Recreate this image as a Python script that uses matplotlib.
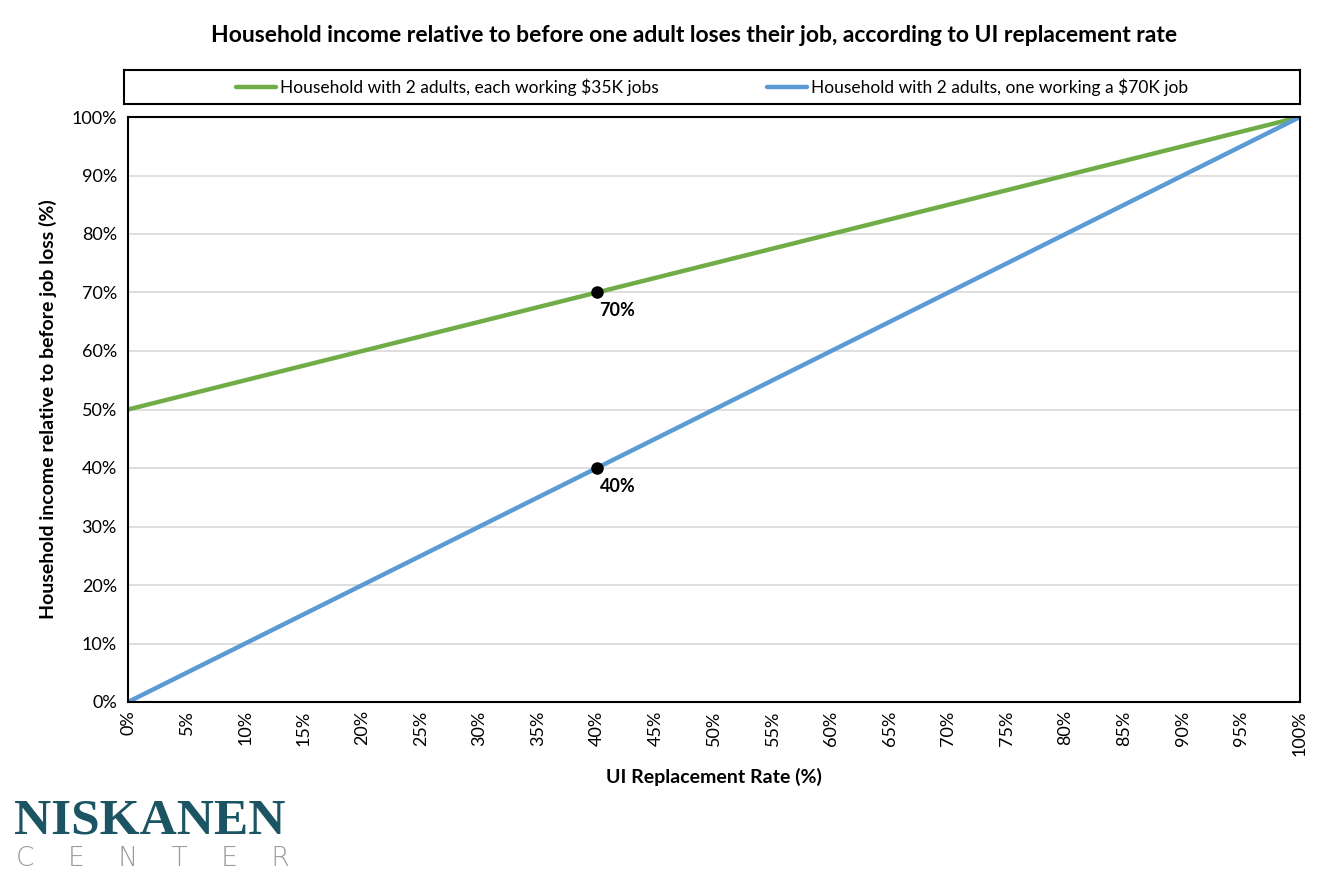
import numpy as np
import matplotlib
matplotlib.use("Agg")
from matplotlib import pyplot as plt
from matplotlib.ticker import PercentFormatter

plt.rcParams['font.family'] = ['Lato', 'DejaVu Sans']

# UI replacement rate (%)
rate = [0, 5, 10, 15, 20, 25, 30, 35, 40, 45, 50, 55, 60, 65, 70, 75, 80, 85, 90, 95, 100]
# household income relative to before job loss (%)
two_35k = [50, 52.5, 55, 57.5, 60, 62.5, 65, 67.5, 70, 72.5, 75, 77.5, 80, 82.5, 85, 87.5, 90, 92.5, 95, 97.5, 100]
one_70k = [0, 5, 10, 15, 20, 25, 30, 35, 40, 45, 50, 55, 60, 65, 70, 75, 80, 85, 90, 95, 100]
label_35k = 'Household with 2 adults, each working $35K jobs'
label_70k = 'Household with 2 adults, one working a $70K job'
marked_rate = 40
marked_vals = [70, 40]

green = '#70AD47'
blue = '#5B9BD5'

fig = plt.figure(figsize=(13.24, 8.86), dpi=100)
ax = fig.add_axes([128/1324, 1-702/886, (1300-128)/1324, (702-117)/886])

l1, = ax.plot(rate, two_35k, color=green, lw=3.2, label=label_35k, solid_capstyle='round')
l2, = ax.plot(rate, one_70k, color=blue, lw=3.2, label=label_70k, solid_capstyle='round')

for v in marked_vals:
    ax.plot(marked_rate, v, 'o', color='black', ms=8, zorder=5)
    ax.annotate('%d%%' % v, (marked_rate, v), xytext=(2, -7), textcoords='offset points',
                ha='left', va='top', fontsize=13, fontweight='bold')

ax.set_xlim(0, 100)
ax.set_ylim(0, 100)
ax.set_xticks(range(0, 101, 5))
ax.set_yticks(range(0, 101, 10))
ax.xaxis.set_major_formatter(PercentFormatter(decimals=0))
ax.yaxis.set_major_formatter(PercentFormatter(decimals=0))
ax.tick_params(axis='x', labelrotation=90, length=0, labelsize=13, pad=6)
ax.tick_params(axis='y', length=0, labelsize=13, pad=8)
ax.grid(axis='y', color='#D9D9D9', lw=1.2)
ax.set_axisbelow(True)
for s in ax.spines.values():
    s.set_linewidth(1.5)
ax.set_xlabel('UI Replacement Rate (%)', fontsize=14, fontweight='bold', labelpad=9)
ax.set_ylabel('Household income relative to before job loss (%)', fontsize=14, fontweight='bold', labelpad=10)

# legend box as its own framed axes
lax = fig.add_axes([124/1324, 1-104/886, (1300-124)/1324, 34/886])
lax.set_xticks([])
lax.set_yticks([])
for s in lax.spines.values():
    s.set_linewidth(1.5)
lax.legend(handles=[l1, l2], loc='center', ncol=2, frameon=False, fontsize=12.5,
           handlelength=2.3, handletextpad=0.25, columnspacing=6.2)

fig.text(694/1324, 1-35/886, 'Household income relative to before one adult loses their job, according to UI replacement rate',
         ha='center', va='center', fontsize=16.5, fontweight='bold')

# logo
fig.text(14/1324, 1-822/886, 'NISKANEN', family='Liberation Serif', fontsize=37, fontweight='bold',
         color='#1B5563', ha='left', va='center')
fig.text(16/1324, 1-858/886, 'C    E    N    T    E    R', family='DejaVu Sans', fontsize=19,
         fontweight='light', color='#9A9A9A', ha='left', va='center')

fig.savefig('out.png', dpi=100)
